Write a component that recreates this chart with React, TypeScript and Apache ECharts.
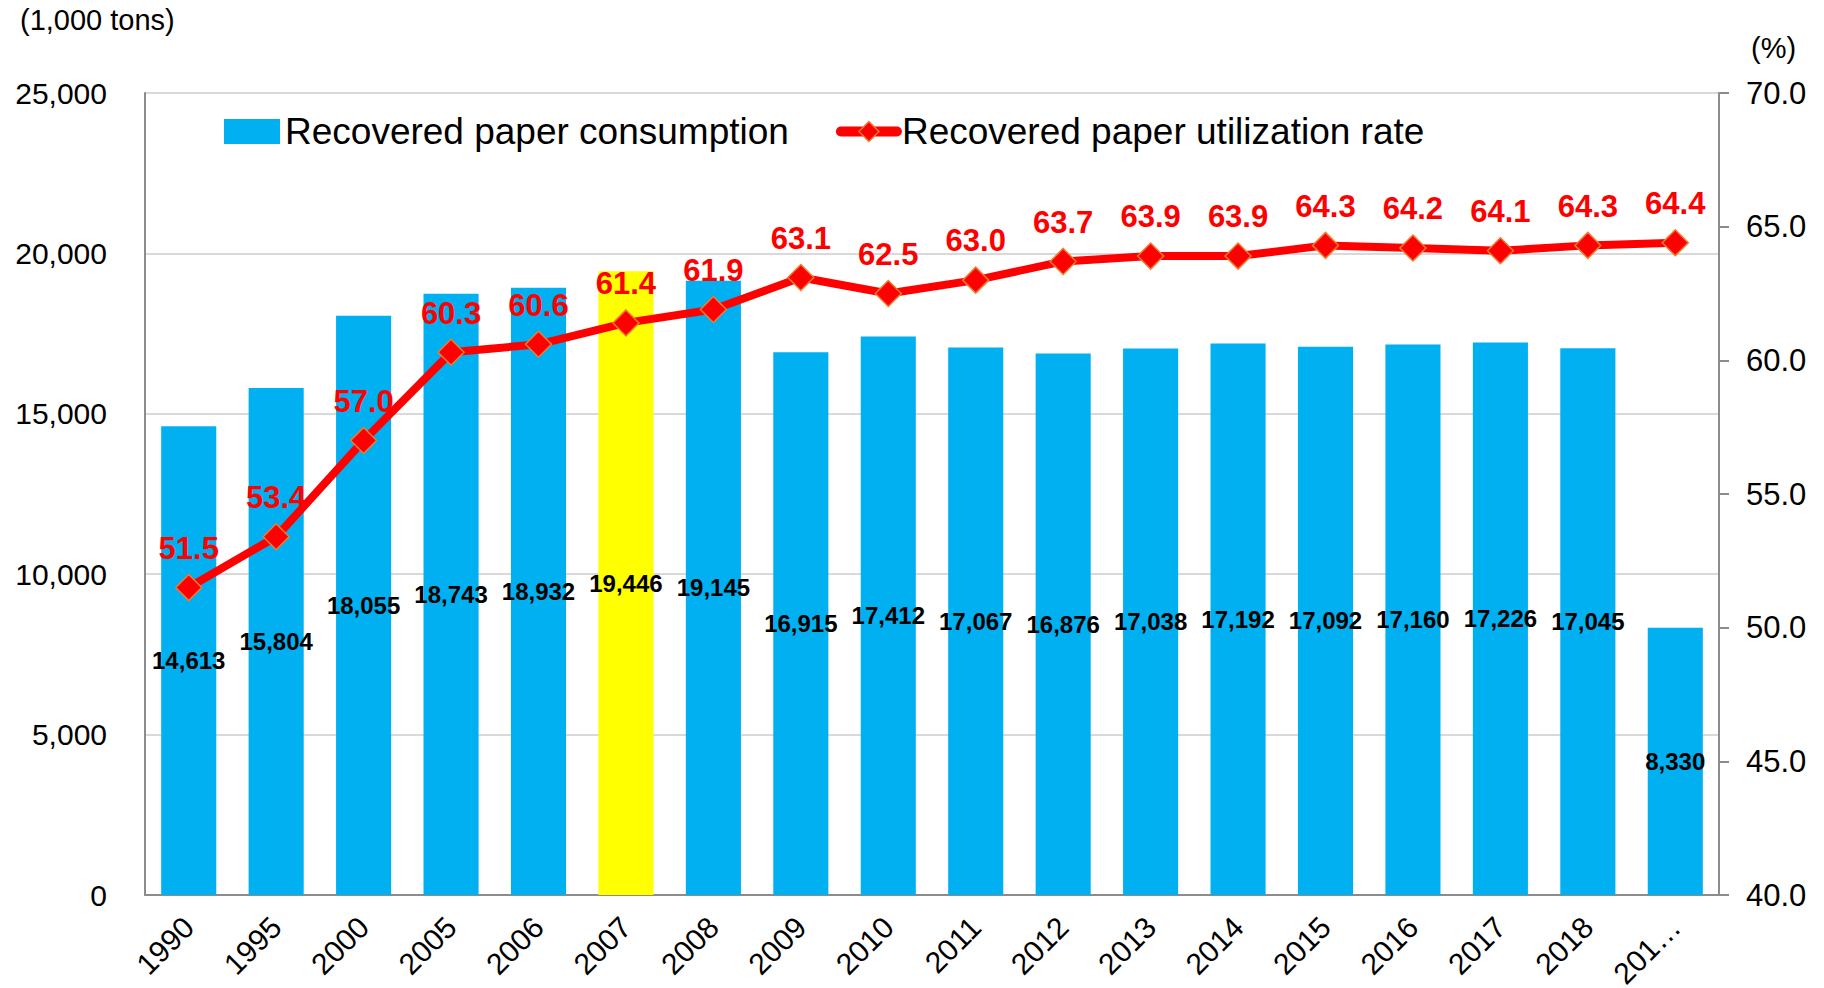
import React, { useEffect, useRef } from "react";
import * as echarts from "echarts";

const years = ["1990", "1995", "2000", "2005", "2006", "2007", "2008", "2009", "2010", "2011", "2012", "2013", "2014", "2015", "2016", "2017", "2018", "201…"];
const consumption = [14613, 15804, 18055, 18743, 18932, 19446, 19145, 16915, 17412, 17067, 16876, 17038, 17192, 17092, 17160, 17226, 17045, 8330];
const utilizationRate = [51.5, 53.4, 57.0, 60.3, 60.6, 61.4, 61.9, 63.1, 62.5, 63.0, 63.7, 63.9, 63.9, 64.3, 64.2, 64.1, 64.3, 64.4];
const highlightedYear = "2007";
const seriesNames = ["Recovered paper consumption", "Recovered paper utilization rate"];

const FONT = "'Liberation Sans', Arial, sans-serif";
const BAR_COLOR = "#00b0f0";
const HIGHLIGHT_COLOR = "#ffff00";
const LINE_COLOR = "#ff0000";
const MARKER_BORDER = "#ed7d31";

export default function App() {
  const ref = useRef<HTMLDivElement>(null);
  useEffect(() => {
    if (!ref.current) return;
    const chart = echarts.init(ref.current, undefined, { renderer: "svg" });
    chart.setOption({
      animation: false,
      backgroundColor: "#ffffff",
      textStyle: { fontFamily: FONT },
      grid: { left: 145, right: 105, top: 93, bottom: 93, containLabel: false, outerBoundsMode: "none" },
      legend: {
        left: 219,
        top: 108,
        itemWidth: 56,
        itemHeight: 25,
        itemGap: 47,
        textStyle: { fontSize: 37, color: "#000", fontFamily: FONT },
        data: [
          { name: seriesNames[0], icon: "rect", itemStyle: { color: BAR_COLOR } },
          {
            name: seriesNames[1],
            itemStyle: { color: LINE_COLOR, borderColor: MARKER_BORDER, borderWidth: 1.5 },
            lineStyle: { color: LINE_COLOR, width: 10, cap: "round" },
          },
        ],
      },
      graphic: [
        { type: "text", left: 20, top: 5, style: { text: "(1,000 tons)", fontSize: 29, fill: "#000", fontFamily: FONT } },
        { type: "text", left: 1751, top: 33, style: { text: "(%)", fontSize: 29, fill: "#000", fontFamily: FONT } },
      ],
      xAxis: {
        type: "category",
        data: years,
        axisLine: { lineStyle: { color: "#8c8c8c", width: 2 } },
        axisTick: { show: false },
        axisLabel: { interval: 0, rotate: 45, fontSize: 30, color: "#000", margin: 27, fontFamily: FONT },
      },
      yAxis: [
        {
          type: "value",
          min: 0,
          max: 25000,
          interval: 5000,
          axisLine: { show: true, lineStyle: { color: "#8c8c8c", width: 2 } },
          axisTick: { show: false },
          splitLine: { lineStyle: { color: "#d9d9d9", width: 2 } },
          axisLabel: {
            fontSize: 30,
            color: "#000",
            margin: 38,
            fontFamily: FONT,
            formatter: (v: number) => v.toLocaleString("en-US"),
          },
        },
        {
          type: "value",
          min: 40,
          max: 70,
          interval: 5,
          position: "right",
          axisLine: { show: true, lineStyle: { color: "#8c8c8c", width: 2 } },
          axisTick: { show: true, length: 10, lineStyle: { color: "#8c8c8c", width: 2 } },
          splitLine: { show: false },
          axisLabel: {
            fontSize: 31,
            color: "#000",
            margin: 27,
            fontFamily: FONT,
            formatter: (v: number) => v.toFixed(1),
          },
        },
      ],
      series: [
        {
          name: seriesNames[0],
          type: "bar",
          yAxisIndex: 0,
          barWidth: "63%",
          data: consumption,
          itemStyle: {
            color: (p: any) => (years[p.dataIndex] === highlightedYear ? HIGHLIGHT_COLOR : BAR_COLOR),
          },
          label: {
            show: true,
            position: "inside",
            color: "#000",
            fontWeight: "bold",
            fontSize: 24,
            fontFamily: FONT,
            formatter: (p: any) => Number(p.value).toLocaleString("en-US"),
          },
        },
        {
          name: seriesNames[1],
          type: "line",
          yAxisIndex: 1,
          data: utilizationRate,
          symbol: "diamond",
          symbolSize: 26,
          lineStyle: { color: LINE_COLOR, width: 8 },
          itemStyle: { color: LINE_COLOR, borderColor: MARKER_BORDER, borderWidth: 1.5 },
          label: {
            show: true,
            position: "top",
            distance: 10,
            color: LINE_COLOR,
            fontWeight: "bold",
            fontSize: 31,
            fontFamily: FONT,
            formatter: (p: any) => Number(p.value).toFixed(1),
          },
          z: 3,
        },
      ],
    });
    return () => chart.dispose();
  }, []);
  return <div ref={ref} style={{ position: "fixed", left: 0, top: 0, width: 1824, height: 988 }} />;
}
